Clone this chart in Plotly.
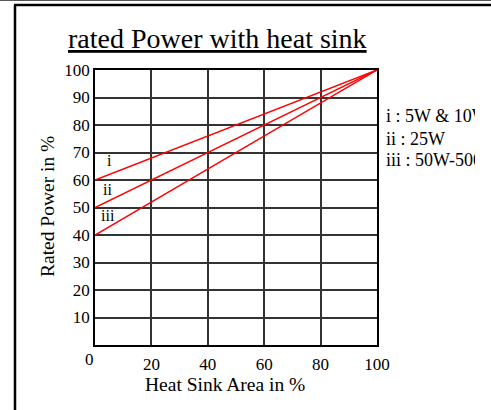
import plotly.graph_objects as go

# ---- data ----
area = [0, 100]
curve_i = [60, 100]
curve_ii = [50, 100]
curve_iii = [40, 100]
curve_names = ["i", "ii", "iii"]
curve_label_pos = [(5, 67), (4.5, 56.5), (4.5, 47)]
legend_texts = ["i : 5W & 10W", "ii : 25W", "iii : 50W-500W"]
legend_y = [82.9, 74.5, 66.9]
x_ticks = [20, 40, 60, 80, 100]
y_ticks = [10, 20, 30, 40, 50, 60, 70, 80, 90, 100]

W, H = 491, 410
ML, MR, MT, MB = 15, 16, 5, 5
PW, PH = W - ML - MR, H - MT - MB


def px_x(p):
    return (p - ML) / PW


def px_y(p):
    return (H - MB - p) / PH


FONT = "Liberation Serif, Times New Roman, serif"

fig = go.Figure()
for ys in (curve_i, curve_ii, curve_iii):
    fig.add_trace(go.Scatter(x=area, y=ys, mode="lines",
                             line=dict(color="red", width=1.5),
                             showlegend=False, hoverinfo="skip"))

# legend-like side text, clipped by its own subplot
fig.add_trace(go.Scatter(x=[0.0] * len(legend_texts), y=legend_y, text=legend_texts,
                         mode="text", textposition="middle right",
                         textfont=dict(family=FONT, size=18, color="black"),
                         xaxis="x2", yaxis="y2", cliponaxis=True,
                         showlegend=False, hoverinfo="skip"))

xd = [px_x(95), px_x(377)]
yd = [px_y(345), px_y(70)]

fig.update_layout(
    width=W, height=H, showlegend=False,
    margin=dict(l=ML, r=MR, t=MT, b=MB, autoexpand=False),
    paper_bgcolor="white", plot_bgcolor="white",
    font=dict(family=FONT, size=17, color="black"),
    xaxis=dict(domain=xd, range=[0, 100], tickvals=x_ticks,
               ticktext=[str(v) for v in x_ticks],
               showgrid=True, gridcolor="#333", gridwidth=1.5,
               showline=True, linecolor="black", linewidth=1.5, mirror=True,
               ticks="", zeroline=False, ticklabelstandoff=3,
               tickfont=dict(family=FONT, size=17)),
    yaxis=dict(domain=yd, range=[0, 100], tickvals=y_ticks,
               ticktext=[str(v) for v in y_ticks],
               showgrid=True, gridcolor="#333", gridwidth=1.5,
               showline=True, linecolor="black", linewidth=1.5, mirror=True,
               ticks="", zeroline=False,
               tickfont=dict(family=FONT, size=17)),
    xaxis2=dict(domain=[px_x(386), 1], range=[0, 1], visible=False,
                anchor="y2", fixedrange=True),
    yaxis2=dict(domain=yd, range=[0, 100], visible=False,
                anchor="x2", fixedrange=True),
)

annotations = [
    dict(text="<u>rated Power with heat sink</u>", xref="paper", yref="paper",
         x=px_x(217), y=px_y(39), xanchor="center", yanchor="middle",
         showarrow=False, font=dict(family=FONT, size=28, color="black")),
    dict(text="Rated Power in %", xref="paper", yref="paper",
         x=px_x(47), y=px_y(207), textangle=-90, xanchor="center", yanchor="middle",
         showarrow=False, font=dict(family=FONT, size=19.5, color="black")),
    dict(text="Heat Sink Area in %", xref="paper", yref="paper",
         x=px_x(225), y=px_y(384), xanchor="center", yanchor="middle",
         showarrow=False, font=dict(family=FONT, size=19.5, color="black")),
    dict(text="0", xref="x", yref="paper", x=0, y=px_y(359),
         xanchor="center", yanchor="middle", xshift=-6,
         showarrow=False, font=dict(family=FONT, size=17, color="black")),
]
for name, (lx, ly) in zip(curve_names, curve_label_pos):
    annotations.append(dict(text=name, xref="x", yref="y", x=lx, y=ly,
                            xanchor="center", yanchor="middle", showarrow=False,
                            font=dict(family=FONT, size=16, color="black")))
fig.update_layout(annotations=annotations)

# outer frame (top and left edges) and thin page edge line
fig.add_shape(type="line", xref="paper", yref="paper",
              x0=px_x(14), x1=px_x(491), y0=px_y(5), y1=px_y(5),
              line=dict(color="black", width=2.5))
fig.add_shape(type="line", xref="paper", yref="paper",
              x0=px_x(15), x1=px_x(15), y0=px_y(5), y1=px_y(410),
              line=dict(color="black", width=2.5))
fig.add_shape(type="line", xref="paper", yref="paper",
              x0=px_x(0), x1=px_x(491), y0=px_y(0.5), y1=px_y(0.5),
              line=dict(color="#555", width=1))

fig.write_html("out.html", config={"displayModeBar": False},
               post_script="document.body.style.margin='0px';document.body.style.overflow='hidden';")
